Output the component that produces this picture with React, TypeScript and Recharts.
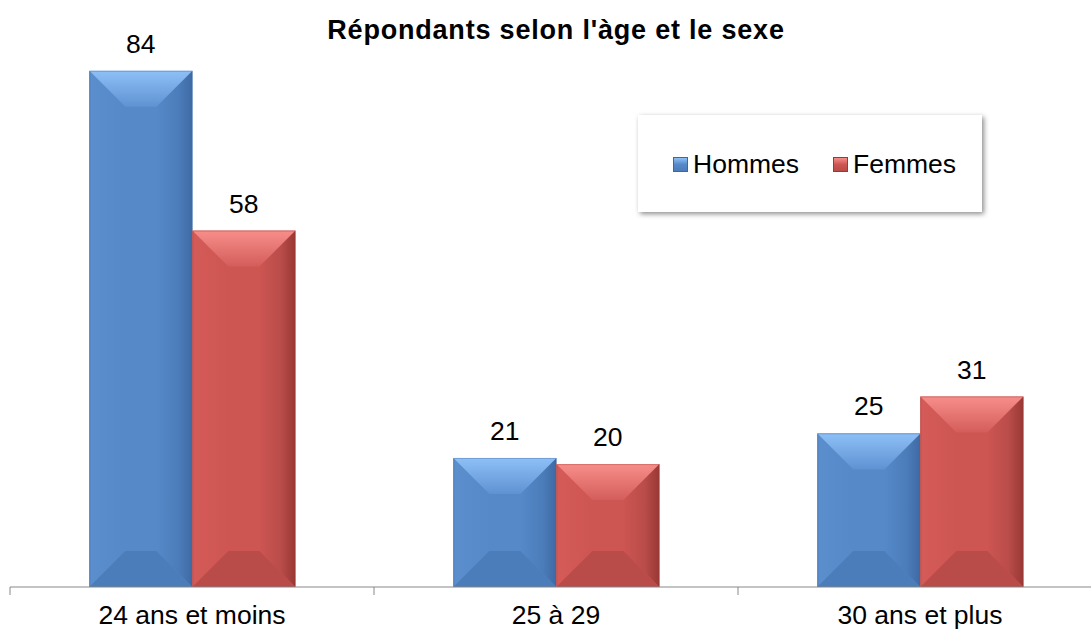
import React from "react";
import { BarChart, Bar, XAxis, YAxis, LabelList } from "recharts";

const categories = ["24 ans et moins", "25 à 29", "30 ans et plus"];
const hommes = [84, 21, 25];
const femmes = [58, 20, 31];
const title = "Répondants selon l'àge et le sexe";
const seriesNames = ["Hommes", "Femmes"];

const data = categories.map((c, i) => ({ cat: c, Hommes: hommes[i], Femmes: femmes[i] }));

const FONT = "'Liberation Sans', Arial, sans-serif";
const FS = 26.5;

const palettes: Record<string, { main: string; top: string; topInner: string; left: string; right: string; bottom: string; edge: string }> = {
  blue: { main: "#5589C8", top: "#8EC0F7", topInner: "#5E92D2", left: "#5A8ECD", right: "#3F6AA3", bottom: "#4C7DBB", edge: "#3D679F" },
  red: { main: "#CD5552", top: "#F78E8A", topInner: "#D45D5A", left: "#D45B58", right: "#983835", bottom: "#B94C49", edge: "#9A3A37" },
};

const bevelShape = (pal: string) => (props: any) => {
  const { x, y, width, height } = props;
  if (!height || height <= 0) return <g />;
  const p = palettes[pal];
  const b = Math.min(36, width / 2, height / 2);
  const x2 = x + width;
  const y2 = y + height;
  return (
    <g>
      <rect x={x} y={y} width={width} height={height} fill={p.main} />
      <polygon points={`${x},${y} ${x + b},${y + b} ${x + b},${y2 - b} ${x},${y2}`} fill={`url(#left-${pal})`} />
      <polygon points={`${x2},${y} ${x2},${y2} ${x2 - b},${y2 - b} ${x2 - b},${y + b}`} fill={`url(#right-${pal})`} />
      <polygon points={`${x},${y2} ${x + b},${y2 - b} ${x2 - b},${y2 - b} ${x2},${y2}`} fill={p.bottom} />
      <polygon points={`${x},${y} ${x2},${y} ${x2 - b},${y + b} ${x + b},${y + b}`} fill={`url(#top-${pal})`} />
      <rect x={x + 0.5} y={y + 0.5} width={width - 1} height={height - 1} fill="none" stroke={p.edge} strokeOpacity={0.35} strokeWidth={1} />
    </g>
  );
};

const AxisTick = (props: any) => {
  const { x, y, payload, index } = props;
  const off = payload && payload.offset ? payload.offset : 0;
  return (
    <g>
      <line x1={x - off} y1={y - 8} x2={x - off} y2={y} stroke="#888888" strokeWidth={1} />
      {index === categories.length - 1 && (
        <line x1={x + off} y1={y - 8} x2={x + off} y2={y} stroke="#888888" strokeWidth={1} />
      )}
      <text x={x} y={y + 29} textAnchor="middle" fontFamily={FONT} fontSize={FS} fill="#000">
        {payload.value}
      </text>
    </g>
  );
};

const legendColors: Record<string, string> = { Hommes: "blue", Femmes: "red" };

const LegendBox = () => (
  <div
    style={{
      position: "absolute",
      left: 638,
      top: 115,
      width: 344,
      height: 97,
      background: "#fff",
      boxShadow: "2px 2px 5px rgba(0,0,0,0.45)",
      fontFamily: FONT,
      fontSize: FS,
      color: "#000",
      zIndex: 3,
    }}
  >
    {seriesNames.map((n, i) => {
      const p = palettes[legendColors[n]];
      const left = i === 0 ? 35 : 195;
      return (
        <div key={n} style={{ position: "absolute", left, top: 31, display: "flex", alignItems: "center", lineHeight: "36px" }}>
          <div
            style={{
              width: 15,
              height: 15,
              marginRight: 5,
              background: `linear-gradient(180deg, ${p.top} 0%, ${p.main} 50%, ${p.bottom} 100%)`,
              border: `1px solid ${p.edge}`,
              boxSizing: "border-box",
            }}
          />
          <span>{n}</span>
        </div>
      );
    })}
  </div>
);

export default function App() {
  return (
    <div style={{ position: "absolute", left: 0, top: 0, width: 1091, height: 635, overflow: "hidden", background: "#fff" }}>
      <div
        style={{
          position: "absolute",
          left: 10,
          width: 1092,
          top: 15,
          textAlign: "center",
          fontFamily: FONT,
          fontWeight: "bold",
          fontSize: 27,
          letterSpacing: 0.8,
          color: "#000",
          zIndex: 2,
        }}
      >
        {title}
      </div>
      <LegendBox />
      <BarChart
        width={1110}
        height={635}
        data={data}
        margin={{ top: 34, right: 8, left: 10, bottom: 8 }}
        barCategoryGap="21.8%"
        barGap={0}
      >
        <defs>
          {Object.keys(palettes).map((k) => (
            <React.Fragment key={k}>
              <linearGradient id={`top-${k}`} x1="0" y1="0" x2="0" y2="1">
                <stop offset="0%" stopColor={palettes[k].top} />
                <stop offset="100%" stopColor={palettes[k].topInner} />
              </linearGradient>
              <linearGradient id={`left-${k}`} x1="0" y1="0" x2="1" y2="0">
                <stop offset="0%" stopColor={palettes[k].left} />
                <stop offset="100%" stopColor={palettes[k].main} />
              </linearGradient>
              <linearGradient id={`right-${k}`} x1="0" y1="0" x2="1" y2="0">
                <stop offset="0%" stopColor={palettes[k].main} />
                <stop offset="60%" stopColor={palettes[k].bottom} />
                <stop offset="100%" stopColor={palettes[k].right} />
              </linearGradient>
            </React.Fragment>
          ))}
        </defs>
        <XAxis
          dataKey="cat"
          height={40}
          stroke="#888888"
          tickLine={false}
          tick={<AxisTick />}
          interval={0}
        />
        <YAxis hide domain={[0, 90]} />
        <Bar dataKey="Hommes" fill="#5589C8" isAnimationActive={false} shape={bevelShape("blue")}>
          <LabelList dataKey="Hommes" position="top" offset={18} fontFamily={FONT} fontSize={FS} fill="#000" />
        </Bar>
        <Bar dataKey="Femmes" fill="#CD5552" isAnimationActive={false} shape={bevelShape("red")}>
          <LabelList dataKey="Femmes" position="top" offset={18} fontFamily={FONT} fontSize={FS} fill="#000" />
        </Bar>
      </BarChart>
    </div>
  );
}
